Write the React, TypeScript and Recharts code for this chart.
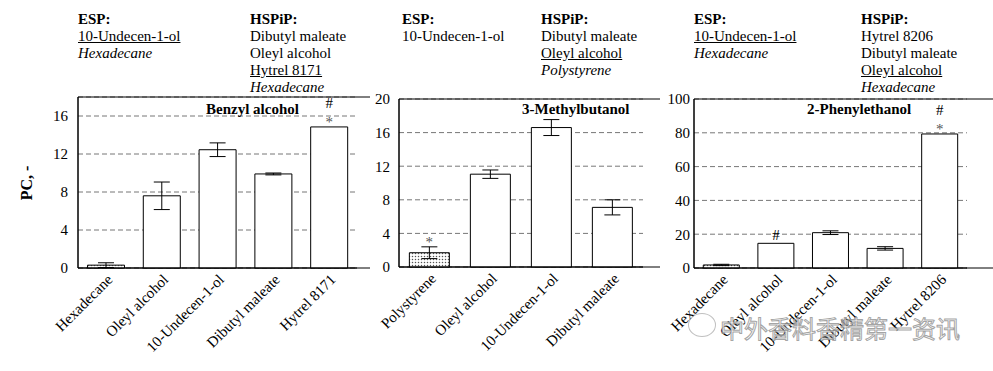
import React from 'react';
import {
  BarChart, Bar, XAxis, YAxis, CartesianGrid, ErrorBar, Cell, ReferenceArea,
} from 'recharts';

const SERIF = '"Liberation Serif", "Times New Roman", serif';

// Benzyl alcohol
const benzylCats = ['Hexadecane', 'Oleyl alcohol', '10-Undecen-1-ol', 'Dibutyl maleate', 'Hytrel 8171'];
const benzylPC = [0.3, 7.6, 12.45, 9.9, 14.85];
const benzylErr = [0.25, 1.45, 0.72, 0.1, 0];
const benzylMarks = [[], [], [], [], ['#', '*']];
const benzylTicks = [0, 4, 8, 12, 16];

// 3-Methylbutanol
const methylCats = ['Polystyrene', 'Oleyl alcohol', '10-Undecen-1-ol', 'Dibutyl maleate'];
const methylPC = [1.7, 11.05, 16.6, 7.1];
const methylErr = [0.7, 0.5, 0.95, 0.9];
const methylMarks = [['*'], [], [], []];
const methylTicks = [0, 4, 8, 12, 16, 20];

// 2-Phenylethanol
const phenylCats = ['Hexadecane', 'Oleyl alcohol', '10-Undecen-1-ol', 'Dibutyl maleate', 'Hytrel 8206'];
const phenylPC = [1.8, 14.6, 20.9, 11.6, 79.3];
const phenylErr = [0.4, 0, 1.1, 1.0, 0];
const phenylMarks = [[], ['#'], [], [], ['#', '*']];
const phenylTicks = [0, 20, 40, 60, 80, 100];

type PanelProps = {
  id: string;
  cats: string[];
  vals: number[];
  errs: number[];
  marks: string[][];
  ticks: number[];
  yMax: number;
  left: number;
  width: number;
  margin: { top: number; right: number; left: number; bottom: number };
  yWidth: number;
  tickGap: number;
};

function Panel(p: PanelProps) {
  const data = p.cats.map((name, i) => ({ name, pc: p.vals[i], err: p.errs[i] }));
  const n = p.cats.length;
  const seps = p.cats.slice(1).map((_, i) => i + 1);

  const renderMarks = (props: any) => {
    const vb = props.viewBox || props;
    const i = props.index;
    const m = p.marks[i];
    if (!m || !m.length) return null;
    const pxPerUnit = vb.height / p.vals[i];
    const top = vb.y - p.errs[i] * pxPerUnit;
    return (
      <g>
        {m.map((s, k) => (
          <text
            key={k}
            x={vb.x + vb.width / 2}
            y={top - (s === '*' ? 0 : 3) - (m.length - 1 - k) * 16}
            textAnchor="middle"
            fontFamily={SERIF}
            fontSize={15}
            fill={s === '*' ? '#555' : '#000'}
          >
            {s}
          </text>
        ))}
      </g>
    );
  };

  return (
    <div style={{ position: 'absolute', left: p.left, top: 87 }}>
      <BarChart width={p.width} height={284} data={data} margin={p.margin} barCategoryGap="17%">
        <defs>
          <pattern id={`dots-${p.id}`} width={3} height={3} patternUnits="userSpaceOnUse">
            <rect width={3} height={3} fill="#fff" />
            <circle cx={1.5} cy={1.5} r={0.75} fill="#555" />
          </pattern>
        </defs>
        <CartesianGrid vertical={false} stroke="#777" strokeDasharray="5 3" />
        <XAxis
          dataKey="name"
          interval={0}
          tickLine={false}
          tickSize={0}
          tickMargin={5}
          angle={-45}
          textAnchor="end"
          axisLine={{ stroke: '#000' }}
          tick={{ fontSize: 15, fontFamily: SERIF, fill: '#000' }}
          height={284 - p.margin.top - (p.id === '1' ? 171 : p.id === '2' ? 168 : 169)}
        />
        <XAxis
          xAxisId="sep"
          type="number"
          domain={[0, n]}
          ticks={seps}
          interval={0}
          mirror
          height={0}
          tick={false}
          axisLine={false}
          tickSize={5}
          tickLine={{ stroke: '#000' }}
        />
        <YAxis
          domain={[0, p.yMax]}
          ticks={p.ticks}
          interval={0}
          width={p.yWidth}
          tickLine={false}
          tickSize={0}
          tickMargin={p.tickGap}
          axisLine={{ stroke: '#000' }}
          tick={{ fontSize: 15, fontFamily: SERIF, fill: '#000' }}
        />
        <YAxis
          yAxisId="tk"
          domain={[0, p.yMax]}
          ticks={p.ticks}
          interval={0}
          mirror
          tick={false}
          axisLine={false}
          tickSize={4}
          tickLine={{ stroke: '#000' }}
        />
        <ReferenceArea
          xAxisId="sep"
          x1={0}
          x2={n}
          y1={0}
          y2={p.yMax}
          fill="none"
          fillOpacity={0}
          stroke="#000"
          strokeWidth={1}
          ifOverflow="visible"
        />
        <Bar dataKey="pc" fill="#fff" stroke="#000" strokeWidth={1} isAnimationActive={false} label={renderMarks}>
          {data.map((_, i) => (
            <Cell key={i} fill={i === 0 ? `url(#dots-${p.id})` : '#fff'} />
          ))}
          <ErrorBar dataKey="err" width={8} stroke="#000" strokeWidth={1} direction="y" isAnimationActive={false} />
        </Bar>
      </BarChart>
    </div>
  );
}

const lineStyle: React.CSSProperties = { whiteSpace: 'nowrap' };

function Header({ left, lines }: { left: number; lines: { t: string; s?: 'b' | 'u' | 'i' }[] }) {
  return (
    <div style={{ position: 'absolute', left, top: 11, fontFamily: SERIF, fontSize: 15, lineHeight: '17px', color: '#000' }}>
      {lines.map((l, i) => (
        <div
          key={i}
          style={{
            ...lineStyle,
            fontWeight: l.s === 'b' ? 'bold' : 'normal',
            fontStyle: l.s === 'i' ? 'italic' : 'normal',
            textDecoration: l.s === 'u' ? 'underline' : 'none',
          }}
        >
          {l.t}
        </div>
      ))}
    </div>
  );
}

function Title({ left, text }: { left: number; text: string }) {
  return (
    <div style={{ position: 'absolute', left, top: 101, fontFamily: SERIF, fontSize: 15, fontWeight: 'bold', whiteSpace: 'nowrap' }}>
      {text}
    </div>
  );
}

export default function App() {
  return (
    <div style={{ position: 'absolute', left: 0, top: 0, width: 993, height: 371, background: '#fff', overflow: 'hidden', fontFamily: SERIF }}>
      <Header left={78} lines={[{ t: 'ESP:', s: 'b' }, { t: '10-Undecen-1-ol', s: 'u' }, { t: 'Hexadecane', s: 'i' }]} />
      <Header
        left={250}
        lines={[{ t: 'HSPiP:', s: 'b' }, { t: 'Dibutyl maleate' }, { t: 'Oleyl alcohol' }, { t: 'Hytrel 8171', s: 'u' }, { t: 'Hexadecane', s: 'i' }]}
      />
      <Header left={402} lines={[{ t: 'ESP:', s: 'b' }, { t: '10-Undecen-1-ol' }]} />
      <Header
        left={541}
        lines={[{ t: 'HSPiP:', s: 'b' }, { t: 'Dibutyl maleate' }, { t: 'Oleyl alcohol', s: 'u' }, { t: 'Polystyrene', s: 'i' }]}
      />
      <Header left={694} lines={[{ t: 'ESP:', s: 'b' }, { t: '10-Undecen-1-ol', s: 'u' }, { t: 'Hexadecane', s: 'i' }]} />
      <Header
        left={861}
        lines={[{ t: 'HSPiP:', s: 'b' }, { t: 'Hytrel 8206' }, { t: 'Dibutyl maleate' }, { t: 'Oleyl alcohol', s: 'u' }, { t: 'Hexadecane', s: 'i' }]}
      />

      <div
        style={{
          position: 'absolute', left: 27, top: 183, transform: 'translate(-50%, -50%) rotate(-90deg)',
          fontFamily: SERIF, fontSize: 16, fontWeight: 'bold', whiteSpace: 'nowrap',
        }}
      >
        PC, -
      </div>

      <Panel
        id="1" cats={benzylCats} vals={benzylPC} errs={benzylErr} marks={benzylMarks} ticks={benzylTicks} yMax={18}
        left={0} width={370} margin={{ top: 10, right: 13, left: 38, bottom: 0 }} yWidth={40} tickGap={10}
      />
      <Panel
        id="2" cats={methylCats} vals={methylPC} errs={methylErr} marks={methylMarks} ticks={methylTicks} yMax={20}
        left={360} width={300} margin={{ top: 12, right: 17, left: 4, bottom: 0 }} yWidth={35} tickGap={9}
      />
      <Panel
        id="3" cats={phenylCats} vals={phenylPC} errs={phenylErr} marks={phenylMarks} ticks={phenylTicks} yMax={100}
        left={655} width={338} margin={{ top: 12, right: 26, left: 4, bottom: 0 }} yWidth={35} tickGap={4}
      />

      <Title left={206} text="Benzyl alcohol" />
      <Title left={522} text="3-Methylbutanol" />
      <Title left={807} text="2-Phenylethanol" />

      <div
        style={{
          position: 'absolute', left: 688, top: 313, width: 26, height: 22, borderRadius: '50%',
          border: '1.5px solid rgba(150,150,150,0.6)',
        }}
      />
      <div
        style={{
          position: 'absolute', left: 720, top: 310, fontFamily: '"Noto Sans CJK SC", sans-serif', fontSize: 24,
          color: 'rgba(255,255,255,0.6)', WebkitTextStroke: '1px rgba(140,140,140,0.8)', whiteSpace: 'nowrap',
        }}
      >
        中外香料香精第一资讯
      </div>
    </div>
  );
}
